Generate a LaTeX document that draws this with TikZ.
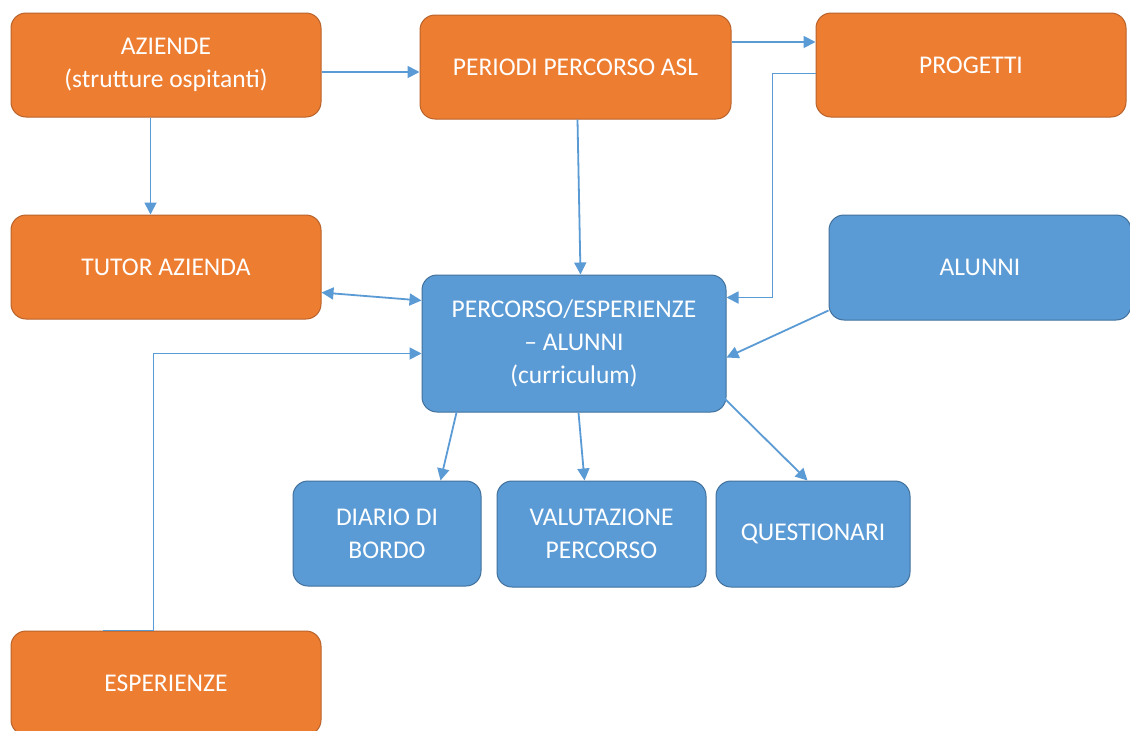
\documentclass[tikz,border=0pt]{standalone}
\usepackage{fontspec}
\setmainfont{Carlito}
\usetikzlibrary{calc,arrows.meta}
\definecolor{obox}{HTML}{ED7D31}
\definecolor{oedge}{HTML}{B9632A}
\definecolor{bbox}{HTML}{5B9BD5}
\definecolor{bedge}{HTML}{41719C}
\definecolor{lnk}{HTML}{5B9BD5}
\tikzset{
  boxbase/.style={rounded corners=15pt, line width=1pt, text=white, align=center, inner sep=0pt,
    font=\fontsize{25.5}{33}\selectfont},
  obx/.style={boxbase, fill=obox, draw=oedge},
  bbx/.style={boxbase, fill=bbox, draw=bedge},
  arr/.style={draw=lnk, line width=1.8pt, -{Triangle[length=12pt,width=12pt]}},
  darr/.style={draw=lnk, line width=1.8pt, {Triangle[length=12pt,width=12pt]}-{Triangle[length=12pt,width=12pt]}},
  ln/.style={draw=lnk, line width=1.8pt}
}
\begin{document}
\begin{tikzpicture}[x=1pt,y=-1pt]
\useasboundingbox (0,0) rectangle (1130,731);
\fill[white] (0,0) rectangle (1130,731);
\node[obx, minimum width=310pt, minimum height=104pt] (az) at (166,65) {AZIENDE\\(strutture ospitanti)};
\node[obx, minimum width=311pt, minimum height=104pt] (per) at (575.5,67) {PERIODI PERCORSO ASL};
\node[obx, minimum width=310pt, minimum height=104pt] (prog) at (971,65) {PROGETTI};
\node[obx, minimum width=310pt, minimum height=104pt] (tut) at (166,267) {TUTOR AZIENDA};
\node[bbx, minimum width=302pt, minimum height=105pt] (alu) at (980,267.5) {ALUNNI};
\node[bbx, minimum width=304pt, minimum height=137pt] (cen) at (574,343.5) {PERCORSO/ESPERIENZE\\-- ALUNNI\\(curriculum)};
\node[bbx, minimum width=188pt, minimum height=105pt] (dia) at (387,533.5) {DIARIO DI\\BORDO};
\node[bbx, minimum width=209pt, minimum height=106pt] (val) at (601.5,534) {VALUTAZIONE\\PERCORSO};
\node[bbx, minimum width=194pt, minimum height=106pt] (que) at (813,534) {QUESTIONARI};
\node[obx, minimum width=310pt, minimum height=104pt] (esp) at (166,683) {ESPERIENZE};

\draw[arr] ($(az.north east)+(0,59.5)$) -- ($(per.north west)+(0,57.5)$);
\draw[arr] ($(per.north east)+(0,27.5)$) -- ($(prog.north west)+(0,29.5)$);
\draw[arr] ($(az.south west)+(140,0)$) -- ($(tut.north west)+(140,0)$);
\draw[arr] ($(per.south west)+(158,0)$) -- ($(cen.north west)+(159,0)$);
\draw[arr] ($(prog.north west)+(0,61)$) -| ($(cen.north east)+(46,23)$) -- ($(cen.north east)+(0,23)$);
\draw[darr] ($(tut.north east)+(0,78)$) -- ($(cen.north west)+(0,26)$);
\draw[arr] ($(alu.south west)+(0,-10)$) -- ($(cen.north east)+(0,83)$);
\draw[arr] ($(esp.north west)+(92,0)$) -- ($(esp.north west)+(143,0)$) |- ($(cen.north west)+(0,79)$);
\draw[arr] ($(cen.south west)+(35,0)$) -- ($(dia.north west)+(148,0)$);
\draw[arr] ($(cen.south west)+(157,0)$) -- ($(val.north west)+(88,0)$);
\draw[arr] ($(cen.south east)+(-2,-14)$) -- ($(que.north west)+(92,0)$);
\end{tikzpicture}
\end{document}
